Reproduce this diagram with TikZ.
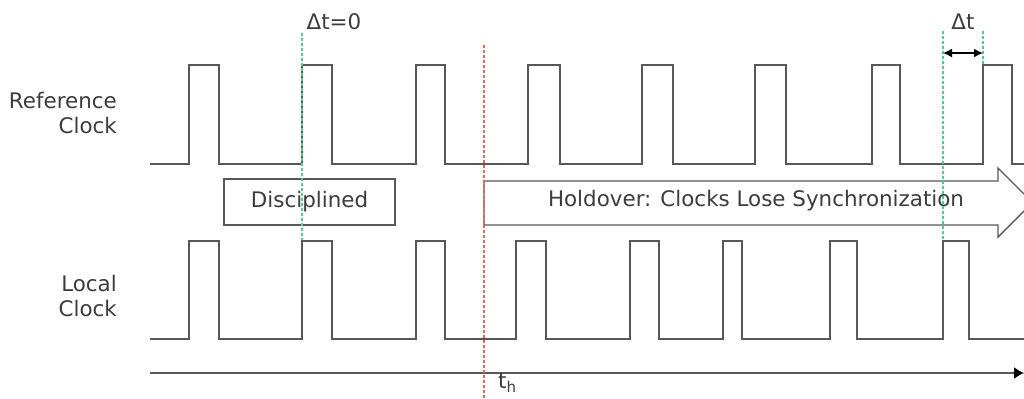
\documentclass[tikz,border=0pt]{standalone}
\usepackage{fontspec}
\setmainfont{DejaVu Sans}
\usetikzlibrary{arrows.meta}
\definecolor{ln}{HTML}{585858}
\definecolor{tx}{HTML}{3C3C3C}
\definecolor{grn}{HTML}{50CC8C}
\definecolor{rd}{HTML}{E86060}
\begin{document}
\begin{tikzpicture}[x=1bp,y=-1bp,
  sig/.style={draw=ln, line width=1.4bp, line join=miter},
  lbl/.style={text=tx, font=\fontsize{21.5}{26}\selectfont, inner sep=0pt},
  guide/.style={line width=1.3bp, dash pattern=on 3bp off 2bp},
  box/.style={draw=ln, line width=1.4bp}]
\useasboundingbox (0,0) rectangle (1024,398);
\begin{scope}
\clip (0,0) rectangle (1024,398);
% reference clock
\draw[sig] (150,164) -- (189,164) -- (189,65) -- (219,65) -- (219,164)
  -- (302,164) -- (302,65) -- (332,65) -- (332,164)
  -- (416,164) -- (416,65) -- (445,65) -- (445,164)
  -- (528,164) -- (528,65) -- (560,65) -- (560,164)
  -- (642,164) -- (642,65) -- (673,65) -- (673,164)
  -- (755,164) -- (755,65) -- (786,65) -- (786,164)
  -- (872,164) -- (872,65) -- (900,65) -- (900,164)
  -- (983,164) -- (983,65) -- (1012,65) -- (1012,164) -- (1030,164);
% local clock
\draw[sig] (150,339) -- (189,339) -- (189,241) -- (219,241) -- (219,339)
  -- (302,339) -- (302,241) -- (332,241) -- (332,339)
  -- (416,339) -- (416,241) -- (445,241) -- (445,339)
  -- (516,339) -- (516,241) -- (546,241) -- (546,339)
  -- (630,339) -- (630,241) -- (659,241) -- (659,339)
  -- (723,339) -- (723,241) -- (742,241) -- (742,339)
  -- (830,339) -- (830,241) -- (857,241) -- (857,339)
  -- (943,339) -- (943,241) -- (969,241) -- (969,339) -- (1030,339);
% holdover arrow
\draw[box, line join=miter] (484,181) -- (998,181) -- (998,168) -- (1032.5,202.5)
  -- (998,237) -- (998,225) -- (484,225) -- cycle;
\node[lbl] (hold) at (756,201) {Holdover: Clocks Lose Synchronization};
% disciplined box
\node[box, lbl, inner sep=0pt, minimum width=171bp, minimum height=46bp] (disc) at (309.5,202) {Disciplined};
% time axis
\coordinate (ax0) at (150,373);
\coordinate (ax1) at (1024,373);
\draw[line width=1.6bp, draw=ln, -{Latex[length=10bp,width=12bp,fill=black,color=black]}] (ax0) -- (ax1);
% guides
\draw[guide, draw=rd] (484,45) -- (484,398);
\draw[guide, draw=grn] (302,33) -- (302,240);
\draw[guide, draw=grn] (943,31) -- (943,241);
\draw[guide, draw=grn] (983,31) -- (983,65);
\coordinate (d0) at (943,53);
\coordinate (d1) at (983,53);
\draw[line width=1.5bp, {Latex[length=9bp,width=9bp]}-{Latex[length=9bp,width=9bp]}] (d0) -- (d1);
\end{scope}
% labels
\node[lbl, anchor=east, align=right] (ref) at (117,113) {Reference\\Clock};
\node[lbl, anchor=east, align=right] (loc) at (117,296) {Local\\Clock};
\node[lbl] (dt0) at (334,22) {Δt=0};
\node[lbl] (dt) at (963,22) {Δt};
\node[lbl, anchor=west] (th) at (498,383) {t\textsubscript{h}};
\end{tikzpicture}
\end{document}
